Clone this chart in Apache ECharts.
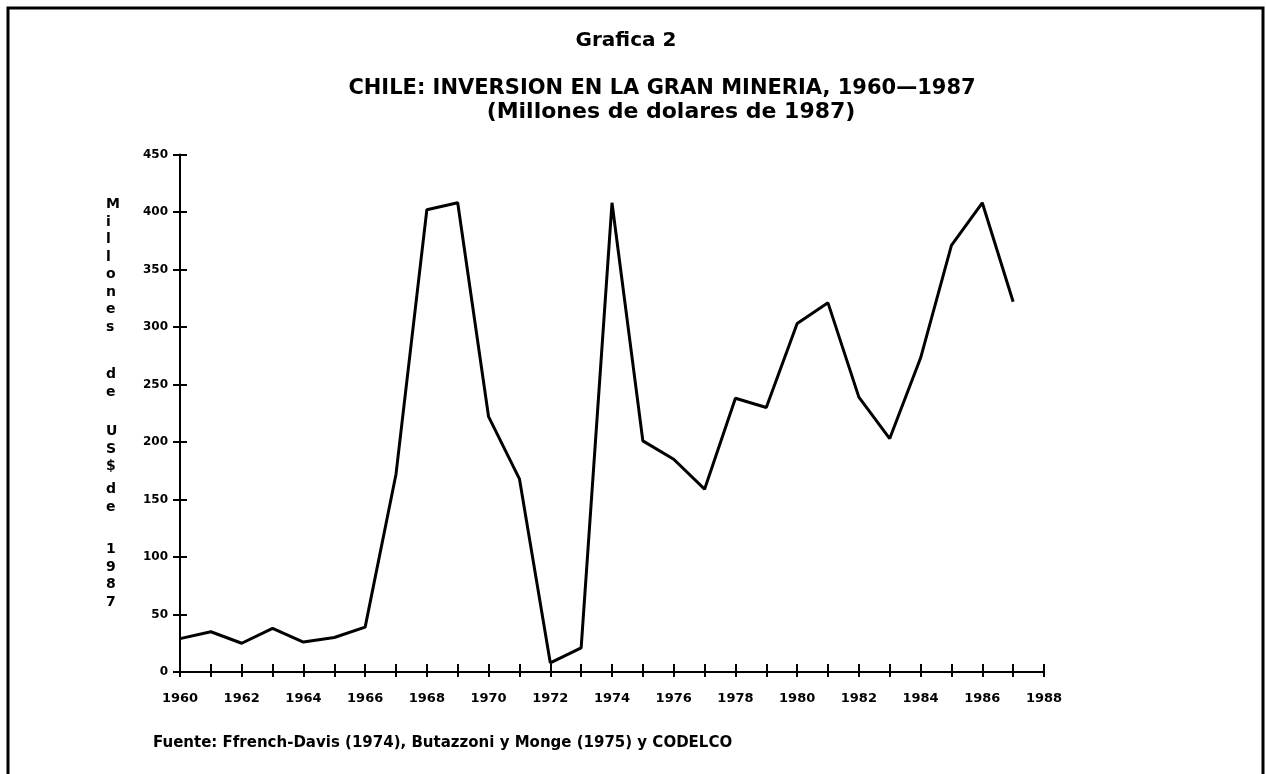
<!DOCTYPE html>
<html>
<head>
<meta charset="utf-8">
<script src="https://cdn.jsdelivr.net/npm/echarts@6/dist/echarts.min.js"></script>
<style>
  html, body {margin: 0; padding: 0; background: #fff;}
  #chart {width: 1266px; height: 774px;}
</style>
</head>
<body>
<div id="chart"></div>
<script>
const years = [1960, 1961, 1962, 1963, 1964, 1965, 1966, 1967, 1968, 1969,
    1970, 1971, 1972, 1973, 1974, 1975, 1976, 1977, 1978, 1979,
    1980, 1981, 1982, 1983, 1984, 1985, 1986, 1987]
const inversion = [29, 35, 25, 38, 26, 30, 39, 172, 402, 408,
    222, 168, 8, 21, 408, 201, 185, 159, 238, 230,
    303, 321, 239, 203, 273, 371, 408, 322]
const yLabelWords = ['Millones', 'de', 'US$', 'de', '1987']
const yLabelTops = [196, 366, 423, 481, 541]

const font = 'DejaVu Sans'
const chart = echarts.init(document.getElementById('chart'))

// two stacked axes per direction so ticks cross the axis line
const tickAxisX = (inside) => ({
    type: 'value',
    position: 'bottom',
    min: 1960,
    max: 1988,
    interval: 1,
    axisLine: {show: !inside, onZero: false, lineStyle: {color: '#000', width: 2}},
    axisTick: {show: true, inside: inside, length: inside ? 8 : 5, lineStyle: {color: '#000', width: 2}},
    axisLabel: {
        show: !inside,
        color: '#000',
        fontFamily: font,
        fontWeight: 'bold',
        fontSize: 13,
        margin: 20,
        formatter: (v) => (v % 2 === 0 ? String(v) : '')
    },
    splitLine: {show: false}
})

const tickAxisY = (inside) => ({
    type: 'value',
    position: 'left',
    min: 0,
    max: 450,
    interval: 50,
    axisLine: {show: !inside, onZero: false, lineStyle: {color: '#000', width: 2}},
    axisTick: {show: true, inside: inside, length: 7, lineStyle: {color: '#000', width: 2}},
    axisLabel: {
        show: !inside,
        color: '#000',
        fontFamily: font,
        fontWeight: 'bold',
        fontSize: 12,
        margin: 12
    },
    splitLine: {show: false}
})

const yLabelGraphics = yLabelWords.map((w, i) => ({
    type: 'text',
    left: 106,
    top: yLabelTops[i],
    style: {
        text: w.split('').join('\n'),
        fill: '#000',
        font: 'bold 14px ' + font,
        lineHeight: 17.5,
        align: 'center'
    }
}))

chart.setOption({
    backgroundColor: '#fff',
    animation: false,
    title: [
        {
            text: 'Grafica 2',
            left: 621,
            top: 26,
            textAlign: 'center',
            textStyle: {fontFamily: font, fontWeight: 'bold', fontSize: 20, color: '#000'}
        },
        {
            text: 'CHILE: INVERSION EN LA GRAN MINERIA, 1960\u20141987',
            left: 657,
            top: 73,
            textAlign: 'center',
            textStyle: {fontFamily: font, fontWeight: 'bold', fontSize: 21, color: '#000'}
        },
        {
            text: '(Millones de dolares de 1987)',
            left: 666,
            top: 96,
            textAlign: 'center',
            textStyle: {fontFamily: font, fontWeight: 'bold', fontSize: 22, color: '#000'}
        },
        {
            text: 'Fuente: Ffrench-Davis (1974), Butazzoni y Monge (1975) y CODELCO',
            left: 148,
            top: 731,
            textStyle: {fontFamily: font, fontWeight: 'bold', fontSize: 15, color: '#000'}
        }
    ],
    graphic: [
        {
            type: 'rect',
            shape: {x: 8, y: 8, width: 1255, height: 790},
            style: {fill: 'none', stroke: '#000', lineWidth: 3}
        },
        ...yLabelGraphics
    ],
    grid: {left: 180, right: 222, top: 154.5, bottom: 102, containLabel: false},
    xAxis: [tickAxisX(false), tickAxisX(true)],
    yAxis: [tickAxisY(false), tickAxisY(true)],
    series: [
        {
            type: 'line',
            data: years.map((y, i) => [y, inversion[i]]),
            showSymbol: false,
            lineStyle: {color: '#000', width: 3},
            z: 3
        }
    ]
})
</script>
</body>
</html>
